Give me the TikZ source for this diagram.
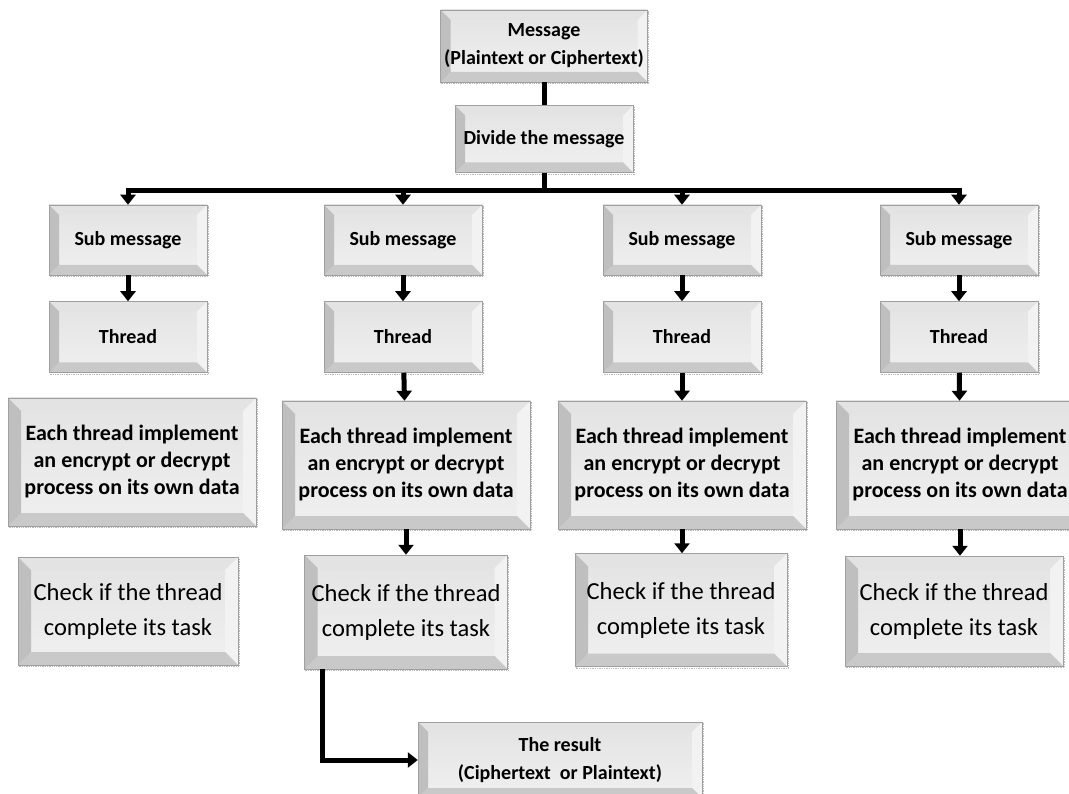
\documentclass[tikz,border=0pt]{standalone}
\usepackage{fontspec}
\setmainfont{Carlito}
\usepackage{xcolor}
\usetikzlibrary{arrows.meta}

\tikzset{
  bevel/.store in=\bevw, bevel=10pt,
  btn/.style={draw=gray!75, line width=0.5pt, inner sep=0pt, align=center,
    top color=gray!22, middle color=white, bottom color=gray!12,
    preaction={draw=gray!55, densely dotted, line width=1.3pt,
      transform canvas={xshift=1.3pt,yshift=-1.8pt}},
    path picture={
      \path (path picture bounding box.south west) coordinate (pa)
            (path picture bounding box.north east) coordinate (pb);
      % top, right, bottom, left faces of the bevel
      \fill[gray!22] (pa|-pb) -- (pb) -- ([xshift=-\bevw,yshift=-\bevw]pb)
        -- ([xshift=\bevw,yshift=-\bevw]pa|-pb) -- cycle;
      \fill[gray!10] (pb) -- (pb|-pa) -- ([xshift=-\bevw,yshift=\bevw]pb|-pa)
        -- ([xshift=-\bevw,yshift=-\bevw]pb) -- cycle;
      \fill[gray!42] (pa) -- (pb|-pa) -- ([xshift=-\bevw,yshift=\bevw]pb|-pa)
        -- ([xshift=\bevw,yshift=\bevw]pa) -- cycle;
      \fill[gray!50] (pa) -- (pa|-pb) -- ([xshift=\bevw,yshift=-\bevw]pa|-pb)
        -- ([xshift=\bevw,yshift=\bevw]pa) -- cycle;
    }},
  head/.style={font=\bfseries\fontsize{20}{28}\selectfont},
  task/.style={font=\bfseries\fontsize{22}{27}\selectfont, bevel=13pt},
  check/.style={font=\fontsize{24.5}{35}\selectfont, bevel=13pt},
  link/.style={line width=5pt},
  arr/.style={link, -{Triangle[width=15pt,length=10pt]}},
}

\begin{document}
\begin{tikzpicture}[x=1pt,y=-1pt]
\useasboundingbox (0,0) rectangle (1069,794);

% top of the tree
\node[btn,head,minimum width=207pt,minimum height=72pt] (msg) at (544,46)
  {Message\\(Plaintext or Ciphertext)};
\node[btn,head,minimum width=178pt,minimum height=67pt] (div) at (544,139)
  {Divide the message};
\coordinate (bus) at (544,191);

% sub messages and threads
\foreach \i/\x in {1/128,2/403,3/682,4/959}{
  \node[btn,head,minimum width=158pt,minimum height=70pt] (sub\i) at (\x,240) {Sub message};
  \node[btn,head,minimum width=158pt,minimum height=71pt] (thr\i) at (\x,337) {Thread};
}

% work done by each thread
\node[btn,task,minimum width=248pt,minimum height=128pt] (job1) at (132,462)
  {Each thread implement\\an encrypt or decrypt\\process on its own data};
\node[btn,task,minimum width=248pt,minimum height=128pt] (job2) at (406,465)
  {Each thread implement\\an encrypt or decrypt\\process on its own data};
\node[btn,task,minimum width=248pt,minimum height=128pt] (job3) at (682,465)
  {Each thread implement\\an encrypt or decrypt\\process on its own data};
\node[btn,task,minimum width=248pt,minimum height=128pt] (job4) at (960,465)
  {Each thread implement\\an encrypt or decrypt\\process on its own data};

\node[btn,check,minimum width=220pt,minimum height=108pt] (chk1) at (128,611)
  {Check if the thread\\complete its task};
\node[btn,check,minimum width=203pt,minimum height=114pt] (chk2) at (406,612)
  {Check if the thread\\complete its task};
\node[btn,check,minimum width=212pt,minimum height=113pt] (chk3) at (681,610)
  {Check if the thread\\complete its task};
\node[btn,check,minimum width=218pt,minimum height=110pt] (chk4) at (954,611)
  {Check if the thread\\complete its task};

\node[btn,head,minimum width=284pt,minimum height=76pt] (res) at (560,760)
  {The result\\(Ciphertext~ or Plaintext)};

% connectors
\draw[link] (msg) -- (div);
\draw[link] (div) -- (bus);
\foreach \i in {1,...,4}{
  \draw[arr] (bus) -| (sub\i.north);
  \draw[arr] (sub\i) -- (thr\i);
}
\foreach \i in {2,3,4}{
  \draw[arr] (thr\i) -- (job\i);
  \draw[arr] (job\i) -- (job\i.south|-chk\i.north);
}
\draw[arr] ([xshift=18pt]chk2.south west) |- (res.west);
\end{tikzpicture}
\end{document}
